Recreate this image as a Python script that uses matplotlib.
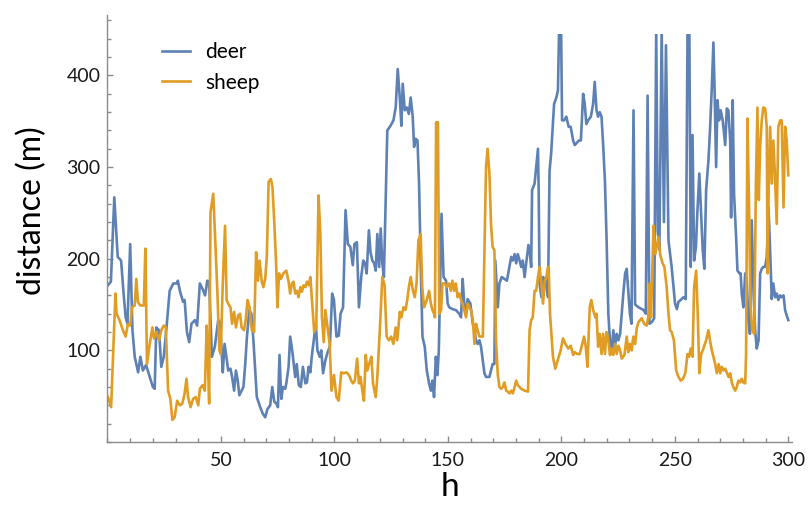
import matplotlib
matplotlib.use("Agg")
import matplotlib.pyplot as plt
from matplotlib.patches import Rectangle
from matplotlib.ticker import MultipleLocator

# hours and distances
deer_h = [0.2, 1.5, 3, 4.5, 6, 7, 8, 8.8, 10, 11, 12, 13.5, 14.5, 15.6, 17, 18.6, 20, 20.8, 21.5, 22.7,
          23.7, 24.8, 26, 27.4, 29, 30.5, 31, 32, 33.3, 34, 35, 36, 37, 38.5, 39.5, 40.7, 41.9, 43, 44, 44.8,
          46, 47.3, 48.8, 49.5, 50.3, 50.8, 51.6, 52.4, 53.2, 54.2, 54.9, 55.8, 56.6, 57.4, 58.1, 59.1, 59.9, 60.7, 61.4, 62.5,
          63.4, 64.3, 65.8, 67.3, 68.4, 69.5, 70.5, 71.7, 72.6, 73.5, 74.4, 75.1, 75.8, 76.6, 77.3, 78.3, 78.8, 79.8, 80.5, 81.4,
          82.7, 83.4, 84.3, 85.2, 86.1, 87.2, 87.9, 88.6, 89.4, 90, 91.1, 91.8, 92.5, 93.5, 94.2, 95, 96, 97, 98, 99,
          99.8, 100.9, 101.9, 102.7, 103.8, 104.9, 105.9, 107, 108.1, 108.8, 109.9, 110.8, 111.8, 112.7, 113.5, 114.2, 115.2, 115.9, 116.7, 117.5,
          118.2, 118.9, 119.7, 120.4, 121.1, 121.8, 123.3, 124.7, 126, 127, 127.9, 128.8, 129.5, 130.1, 131, 131.9, 132.8, 133.6, 134.5, 135.1,
          135.8, 136.6, 137.3, 138, 138.8, 139.8, 140.7, 141.7, 142.5, 143.2, 143.9, 144.7, 145.4, 146, 147.2, 148.1, 149.2, 149.9, 150.6, 152,
          153.5, 155, 155.8, 156.5, 157.2, 158, 158.7, 159.9, 161, 161.7, 162.4, 163.1, 163.9, 164.6, 165.4, 166.1, 166.8, 167.5, 168.3, 169,
          169.7, 170.5, 170.9, 172, 172.7, 173.7, 174.9, 176, 177.1, 177.9, 178.6, 179.4, 180.1, 180.8, 181.6, 182.3, 183, 183.8, 184.5, 185.5,
          186.2, 186.7, 187.1, 188.2, 188.9, 189.7, 190, 190.4, 191.2, 192, 193, 194.1, 194.8, 195.5, 196.8, 197.8, 198.5, 199, 199.9, 200.3,
          201.2, 202.2, 203.2, 204.1, 205.2, 205.9, 206.6, 207.7, 208.6, 209.6, 210.3, 211, 211.8, 213, 214, 214.7, 215.5, 216.2, 216.9, 217.7,
          218.4, 219.2, 219.9, 220.7, 221.4, 222.1, 222.9, 223.6, 224.4, 225.1, 225.9, 226.6, 227.3, 228.1, 228.8, 229.5, 230.2, 230.9, 231.8, 232.5,
          234, 236.2, 237.2, 238, 238.8, 239.9, 240.9, 241.8, 242.5, 243.2, 244.2, 245.2, 246.1, 247.2, 248.6, 249.4, 250.1, 250.9, 251.6, 252.6,
          253.8, 254.8, 255.6, 256.4, 257, 257.8, 258.5, 259.3, 259.9, 260.8, 261.6, 262.3, 263, 263.8, 264.8, 265.5, 266.3, 267, 267.5, 268.2,
          268.8, 269.5, 270.2, 271.1, 272.2, 272.9, 273.6, 274.4, 274.8, 275.5, 276.1, 277, 277.6, 278.5, 279, 279.5, 280.2, 281, 281.7, 282.4,
          283.1, 283.9, 284.7, 285.4, 286.1, 286.9, 287.6, 288.3, 289, 289.8, 290.5, 291.3, 292, 292.7, 293.4, 294.2, 294.9, 295.6, 296.4, 297.1,
          297.9, 298.6, 299.3, 300]
deer_d = [171, 175, 267, 202, 198, 165, 136, 129, 216, 122, 93, 76, 93, 78, 84, 71, 60, 58, 125, 122,
          82, 93, 125, 165, 173, 173, 176, 164, 153, 155, 120, 109, 129, 133, 127, 173, 167, 160, 176, 175,
          93, 104, 133, 131, 100, 76, 107, 93, 78, 80, 71, 56, 78, 67, 51, 56, 60, 85, 113, 144,
          140, 111, 49, 38, 31, 27, 36, 40, 60, 44, 42, 38, 95, 47, 60, 58, 64, 82, 115, 100,
          71, 85, 62, 60, 82, 64, 65, 82, 76, 93, 115, 129, 100, 93, 100, 75, 89, 98, 104, 162,
          155, 115, 116, 140, 147, 253, 216, 213, 193, 216, 218, 147, 180, 198, 195, 184, 231, 207, 198, 195,
          187, 227, 191, 233, 195, 180, 340, 345, 351, 365, 407, 376, 345, 391, 362, 365, 358, 376, 355, 322,
          331, 329, 282, 195, 115, 104, 78, 64, 56, 67, 49, 93, 73, 100, 249, 180, 176, 151, 147, 145,
          144, 140, 136, 178, 151, 140, 156, 151, 129, 122, 111, 107, 111, 104, 89, 75, 71, 71, 71, 78,
          85, 85, 198, 147, 173, 180, 178, 176, 191, 202, 198, 205, 195, 205, 198, 191, 198, 180, 195, 215,
          205, 191, 275, 282, 300, 320, 275, 173, 158, 180, 176, 158, 296, 315, 369, 376, 384, 450, 450, 351,
          351, 355, 344, 344, 329, 324, 326, 329, 329, 380, 369, 347, 351, 355, 369, 393, 362, 355, 360, 355,
          325, 285, 224, 140, 111, 96, 122, 104, 118, 111, 118, 140, 162, 184, 189, 165, 140, 129, 362, 150,
          147, 144, 140, 378, 129, 131, 135, 450, 230, 210, 450, 240, 433, 220, 191, 169, 151, 145, 153, 155,
          158, 156, 450, 450, 191, 335, 198, 213, 249, 293, 249, 209, 189, 275, 307, 340, 387, 436, 387, 300,
          373, 351, 362, 351, 324, 364, 362, 329, 245, 373, 271, 224, 187, 184, 184, 162, 147, 184, 176, 133,
          118, 242, 162, 122, 102, 111, 184, 189, 191, 191, 202, 256, 209, 156, 173, 158, 162, 155, 160, 158,
          160, 144, 138, 133]

sheep_h = [0.2, 1.6, 3.5, 4, 5.3, 6.8, 8, 9, 10, 10.8, 12, 12.7, 13.4, 14.4, 16, 16.7, 17.4, 18.6, 19.8, 20.5,
           21.5, 22.7, 23.7, 24.8, 25.7, 26.7, 27.7, 28.6, 29.6, 30.7, 31.9, 33, 34, 34.8, 35.5, 36.6, 37.7, 38.9, 40, 40.7,
           41.9, 42.9, 43.7, 44.3, 44.8, 45.4, 46.6, 47.3, 48.4, 49.3, 49.9, 50.8, 51.8, 52.5, 53.2, 54.2, 54.9, 55.8, 56.6, 57.6,
           58.4, 59.1, 60.2, 61, 61.7, 62.6, 63.6, 64.6, 65.5, 66.3, 67, 68, 68.7, 69.5, 70.2, 71, 72, 72.7, 73.4, 74.3,
           74.9, 75.6, 76.4, 77.5, 78.8, 79.8, 80.5, 81.3, 82, 82.7, 83.5, 84.2, 85, 85.7, 86.4, 87.2, 87.9, 88.7, 89.4, 90.1,
           91.1, 92, 93, 93.8, 94.5, 95.3, 96, 97, 97.9, 98.7, 99.8, 100.9, 101.9, 103, 104.2, 105.3, 106.4, 107.4, 108.2, 109,
           110, 110.8, 111.5, 112.3, 113, 113.8, 114.5, 115.5, 116.3, 117, 118.2, 118.9, 120, 121.1, 122.1, 123, 124, 125, 126, 127,
           127.7, 128.8, 129.5, 130.4, 131.3, 132.1, 132.8, 133.6, 134.6, 135.4, 136.2, 137, 138, 138.7, 139.5, 140.7, 141.7, 142.5, 143.2, 143.9,
           144.3, 144.8, 145.6, 146.2, 147, 147.6, 148.6, 149.5, 150.6, 151.3, 152, 152.8, 153.5, 154.3, 155, 155.8, 156.5, 157.2, 158, 158.7,
           159.4, 160.2, 161, 161.7, 162.4, 163.1, 163.9, 164.6, 165.4, 166.1, 166.8, 167.5, 168.3, 169, 169.7, 170.5, 171.2, 172, 172.7, 173.5,
           174.2, 174.9, 175.7, 176.4, 177.1, 177.9, 178.6, 179.4, 180.1, 180.8, 182.3, 183.8, 185.3, 186, 186.7, 187.4, 188.2, 188.9, 189.7, 190.4,
           191.2, 191.9, 192.7, 193.4, 194.1, 194.4, 195, 196.3, 197.3, 198.4, 199.7, 200.7, 201.8, 203, 204.1, 205.2, 205.9, 207, 208.1, 209.2,
           210, 210.7, 211.5, 212.5, 213.2, 214, 215, 215.5, 216.2, 216.9, 217.7, 218.4, 219.2, 219.9, 220.7, 221.4, 222.1, 222.9, 223.6, 224.4,
           225.1, 225.9, 226.6, 227.8, 228.8, 229.5, 230.2, 231, 231.7, 232.5, 233.2, 234, 234.7, 235.4, 236.5, 237.6, 238.3, 238.8, 239.5, 240.6,
           241.4, 242.8, 243.6, 244.6, 245.4, 246.4, 247.2, 247.9, 248.6, 249.6, 250.6, 251.6, 252.6, 253.6, 254.6, 255.6, 256.3, 257, 257.8, 258.5,
           259.4, 260.1, 260.8, 261.6, 262.3, 263, 263.8, 264.8, 265.5, 266.3, 267, 267.8, 268.5, 269.3, 270, 270.7, 271.5, 272.2, 273, 273.7,
           274.4, 275.1, 275.8, 276.6, 277.3, 278, 278.8, 279.5, 280.2, 281, 281.4, 282, 282.7, 283.3, 284.1, 285, 285.7, 286.4, 287, 287.6,
           288.3, 289, 289.8, 290.5, 290.9, 291.4, 292, 292.7, 293.4, 294.1, 294.9, 295.6, 296.4, 297.1, 297.9, 298.6, 299.3, 300]
sheep_d = [49, 38, 162, 140, 133, 122, 115, 129, 127, 147, 149, 178, 153, 149, 149, 211, 85, 107, 125, 113,
           120, 111, 122, 127, 125, 56, 47, 24, 27, 45, 40, 42, 53, 69, 49, 38, 47, 49, 40, 58,
           62, 56, 127, 85, 42, 251, 271, 231, 165, 100, 96, 173, 236, 155, 151, 147, 129, 142, 125, 138,
           140, 125, 122, 135, 155, 147, 122, 120, 207, 176, 198, 175, 169, 178, 202, 284, 287, 278, 245, 195,
           147, 184, 178, 184, 187, 175, 162, 173, 175, 162, 165, 158, 169, 164, 171, 169, 175, 171, 180, 155,
           120, 125, 269, 227, 136, 109, 144, 125, 107, 56, 73, 49, 45, 76, 75, 76, 73, 67, 64, 67,
           91, 64, 71, 56, 45, 95, 78, 87, 93, 64, 49, 71, 122, 180, 171, 115, 111, 115, 107, 125,
           111, 142, 136, 147, 144, 155, 169, 180, 165, 158, 173, 220, 227, 169, 147, 155, 165, 151, 144, 140,
           136, 349, 349, 140, 144, 173, 173, 169, 173, 165, 176, 165, 173, 158, 162, 155, 151, 144, 136, 151,
           147, 144, 133, 107, 129, 122, 115, 115, 115, 209, 300, 320, 293, 238, 213, 209, 111, 73, 60, 58,
           60, 65, 56, 55, 53, 56, 53, 60, 67, 62, 58, 56, 55, 122, 133, 136, 165, 165, 180, 191,
           173, 151, 176, 180, 191, 191, 140, 93, 80, 89, 100, 113, 107, 102, 105, 95, 98, 96, 96, 107,
           115, 105, 82, 147, 155, 144, 136, 140, 104, 118, 96, 118, 96, 120, 111, 95, 102, 95, 107, 96,
           105, 100, 91, 95, 115, 98, 107, 100, 115, 107, 124, 131, 133, 135, 129, 127, 136, 173, 136, 236,
           205, 224, 204, 195, 191, 169, 140, 122, 120, 111, 78, 71, 67, 69, 75, 96, 93, 102, 93, 169,
           187, 140, 75, 96, 100, 105, 111, 122, 111, 100, 93, 85, 75, 85, 75, 82, 78, 80, 75, 71,
           75, 65, 60, 56, 60, 67, 65, 69, 65, 64, 96, 353, 256, 151, 122, 118, 278, 365, 264, 322,
           351, 365, 364, 344, 184, 285, 344, 282, 329, 293, 238, 344, 351, 351, 256, 344, 329, 291]

blue = "#5e81b5"
orange = "#e19c24"
axis_gray = "#8c8c8c"

plt.rcParams["font.family"] = ["Lato", "DejaVu Sans"]

fig = plt.figure(figsize=(8.1, 5.05), dpi=100)
ax = fig.add_axes([0.1327, 0.1248, 0.8447, 0.8455])

# data is clipped a bit below the top of the axis line, like the original
clip = Rectangle((0, 0), 301.5, 445, transform=ax.transData)
l1, = ax.plot(deer_h, deer_d, color=blue, lw=1.9, label="deer")
l2, = ax.plot(sheep_h, sheep_d, color=orange, lw=1.9, label="sheep")
for ln in (l1, l2):
    ln.set_clip_path(clip)

ax.set_xlim(0, 301.5)
ax.set_ylim(0, 466)

for s in ["top", "right"]:
    ax.spines[s].set_visible(False)
for s in ["left", "bottom"]:
    ax.spines[s].set_color(axis_gray)
    ax.spines[s].set_linewidth(1.0)

ax.xaxis.set_minor_locator(MultipleLocator(10))
ax.yaxis.set_minor_locator(MultipleLocator(20))
ax.set_xticks([50, 100, 150, 200, 250, 300])
ax.set_yticks([100, 200, 300, 400])

ax.tick_params(which="both", direction="in", color=axis_gray, width=1.0,
               labelsize=14, labelcolor="#1a1a1a")
ax.tick_params(which="major", length=4.5)
ax.tick_params(which="minor", length=2.8)
ax.tick_params(axis="x", pad=7)
ax.tick_params(axis="y", pad=5)

ax.set_xlabel("h", fontsize=24)
ax.xaxis.set_label_coords(0.5, -0.071)
ax.set_ylabel("distance (m)", fontsize=23)
ax.yaxis.set_label_coords(-0.088, 0.543)

ax.legend(loc="upper left", bbox_to_anchor=(0.08, 0.936), frameon=False,
          fontsize=15, handlelength=1.35, handletextpad=0.72, labelspacing=0.5,
          borderpad=0, borderaxespad=0)

fig.savefig("out.png", dpi=100)
